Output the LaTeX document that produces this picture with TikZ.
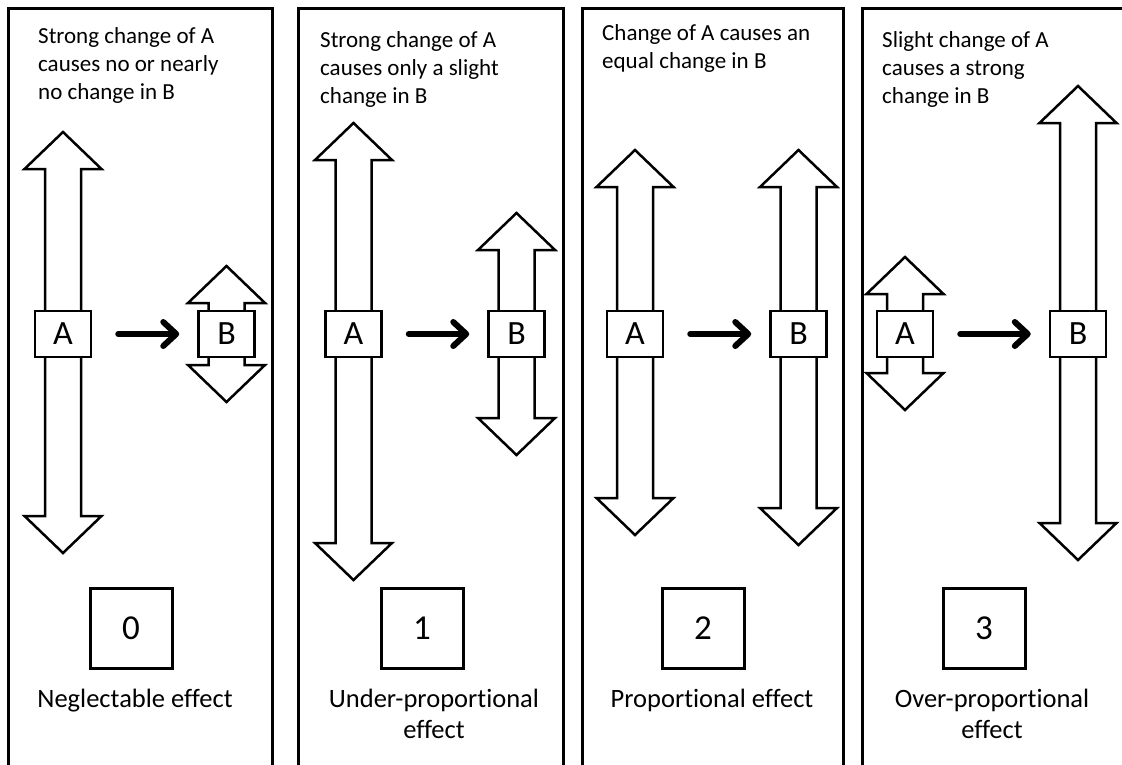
\documentclass[tikz,border=0pt]{standalone}
\usepackage{fontspec}
\setmainfont{Carlito}[Ligatures=NoCommon]
\usetikzlibrary{arrows.meta,positioning}
% block arrow pointing both ways: centre x, top tip, bottom tip
\newcommand{\updown}[3]{%
  \draw[change] ({#1-18},{#2+37}) -- ({#1-38.5},{#2+37}) -- (#1,#2)
    -- ({#1+38.5},{#2+37}) -- ({#1+18},{#2+37}) -- ({#1+18},{#3-37})
    -- ({#1+38.5},{#3-37}) -- (#1,#3) -- ({#1-38.5},{#3-37})
    -- ({#1-18},{#3-37}) -- cycle;}
\begin{document}
\begin{tikzpicture}[x=1pt,y=-1pt,
    panel/.style={draw, line width=3pt},
    change/.style={draw, fill=white, line width=2.5pt, line join=miter},
    varbox/.style={draw, fill=white, line width=2.5pt, minimum width=56pt, minimum height=46pt, inner sep=0pt, font=\fontsize{34}{38}\selectfont},
    levelbox/.style={draw, line width=3pt, minimum width=82pt, minimum height=80pt, inner sep=0pt, font=\fontsize{35}{40}\selectfont},
    cause/.style={line width=6pt, line cap=round, -{Straight Barb[length=13pt, width=24pt, round]}, shorten <=26pt, shorten >=18pt},
    caption/.style={anchor=north west, align=left, inner sep=0pt, font=\fontsize{23}{28}\selectfont},
    effect/.style={align=center, inner sep=0pt, font=\fontsize{26.5}{31}\selectfont}]
  \useasboundingbox (0,0) rectangle (1122,764);
  \clip (0,0) rectangle (1122,764);

  % panels
  \draw[panel] (8,8) rectangle (272,800);
  \draw[panel] (298,8) rectangle (563,800);
  \draw[panel] (582,8) rectangle (843,800);
  \draw[panel] (862,8) rectangle (1130,800);

  % texts on top
  \node[caption] (c0) at (38,27) {Strong change of A\\causes no or nearly\\no change in B};
  \node[caption] (c1) at (320,31) {Strong change of A\\causes only a slight\\change in B};
  \node[caption] (c2) at (602,24) {Change of A causes an\\equal change in B};
  \node[caption] (c3) at (882,31) {Slight change of A\\causes a strong\\change in B};

  % amount of change
  \updown{63}{132}{553}
  \updown{226.5}{266}{402}
  \updown{353.5}{123}{580}
  \updown{516.5}{213}{455}
  \updown{635}{150}{535}
  \updown{798.5}{150}{545}
  \updown{905}{257}{410}
  \updown{1078}{86}{560}

  % A and B
  \node[varbox] (a0) at (63,334) {A};
  \node[varbox] (b0) at (226.5,334) {B};
  \node[varbox] (a1) at (353.5,334) {A};
  \node[varbox] (b1) at (516.5,334) {B};
  \node[varbox] (a2) at (635,334) {A};
  \node[varbox] (b2) at (798.5,334) {B};
  \node[varbox] (a3) at (905,334) {A};
  \node[varbox] (b3) at (1078,334) {B};
  \draw[cause] (a0) -- (b0);
  \draw[cause] (a1) -- (b1);
  \draw[cause] (a2) -- (b2);
  \draw[cause] (a3) -- (b3);

  % levels
  \node[levelbox] (n0) at (131,628) {0};
  \node[levelbox] (n1) at (422,628) {1};
  \node[levelbox] (n2) at (703,628) {2};
  \node[levelbox] (n3) at (984,628) {3};
  \node[effect, below=19pt of n0, xshift=4pt] (e0) {Neglectable effect};
  \node[effect, below=19pt of n1, xshift=12pt] (e1) {Under-proportional\\effect};
  \node[effect, below=19pt of n2, xshift=9pt] (e2) {Proportional effect};
  \node[effect, below=19pt of n3, xshift=8pt] (e3) {Over-proportional\\effect};
\end{tikzpicture}
\end{document}
